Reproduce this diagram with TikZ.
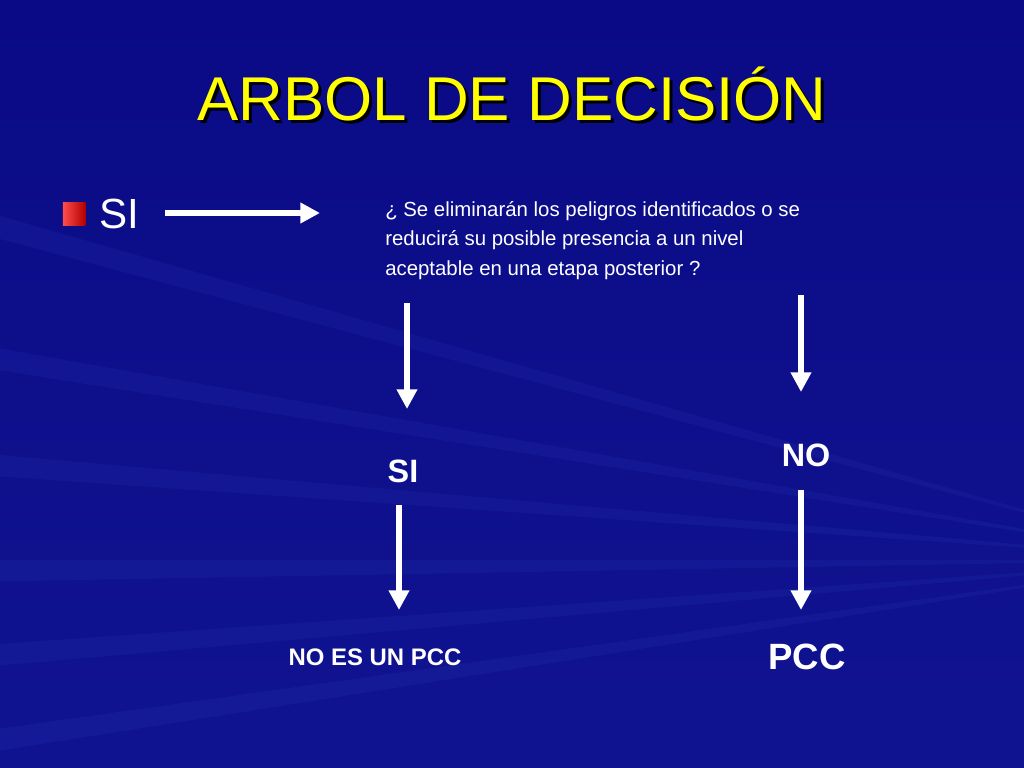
\documentclass[tikz,border=0pt]{standalone}
\usepackage{fontspec}
\setmainfont{Liberation Sans}
\usetikzlibrary{arrows.meta}
\definecolor{deepblue}{HTML}{0A0A86}
\definecolor{rayblue}{HTML}{2A3AB8}
\definecolor{titleyellow}{HTML}{FFFF00}
\begin{document}
\begin{tikzpicture}[x=0.025cm,y=-0.025cm,
  arrowline/.style = {draw=white, line width=4pt, -{Triangle[length=14pt,width=14pt]}},
  plain/.style = {text=white, inner sep=0pt, font=\fontsize{14.5}{21}\selectfont},
  label/.style = {text=white, inner sep=0pt, font=\bfseries\fontsize{23}{26}\selectfont}]
  \useasboundingbox (0,0) rectangle (1024,768);
  % background
  \fill[top color=deepblue, bottom color=deepblue!80!rayblue] (0,0) rectangle (1024,768);
  \begin{scope}
    \clip (0,0) rectangle (1024,768);
    \foreach \a in {-8,-4,0,5,10,16}
      \fill[rayblue, opacity=0.18] (1200,560) -- ++(180+\a:1400) -- ++(90+\a:25) -- cycle;
  \end{scope}

  % title with shadow
  \node[text=black, inner sep=0pt, font=\fontsize{44}{50}\selectfont] at (515,97) {ARBOL DE DECISIÓN};
  \node (title) [text=titleyellow, inner sep=0pt, font=\fontsize{44}{50}\selectfont] at (512,94) {ARBOL DE DECISIÓN};

  % bullet and first SI
  \node (bul) [minimum size=16pt, inner sep=0pt, left color=white!30!red, right color=red!70!black] at (74,214) {};
  \node (si0) [text=white, inner sep=0pt, font=\fontsize{30}{34}\selectfont, anchor=west] at (99,214) {SI};
  \coordinate (aS) at (165,213);
  \coordinate (aE) at (320,213);
  \draw[arrowline] (aS) -- (aE);

  % question
  \node (q) [plain, align=left, anchor=north west] at (385,201)
    {¿ Se eliminarán los peligros identificados o se\\
     reducirá su posible presencia a un nivel\\
     aceptable en una etapa posterior ?};

  % branches
  \node (si) [label] at (403,471) {SI};
  \node (no) [label] at (806,455) {NO};
  \node (nopcc) [label, font=\bfseries\fontsize{17}{20}\selectfont] at (375,657) {NO ES UN PCC};
  \node (pcc) [label, font=\bfseries\fontsize{26}{30}\selectfont] at (807,657) {PCC};

  \coordinate (a1) at (407,303);
  \coordinate (a2) at (407,409);
  \coordinate (a3) at (801,295);
  \coordinate (a4) at (801,392);
  \coordinate (a5) at (399,505);
  \coordinate (a6) at (399,610);
  \coordinate (a7) at (801,490);
  \coordinate (a8) at (801,610);
  \draw[arrowline] (a1) -- (a2);
  \draw[arrowline] (a3) -- (a4);
  \draw[arrowline] (a5) -- (a6);
  \draw[arrowline] (a7) -- (a8);
\end{tikzpicture}
\end{document}
